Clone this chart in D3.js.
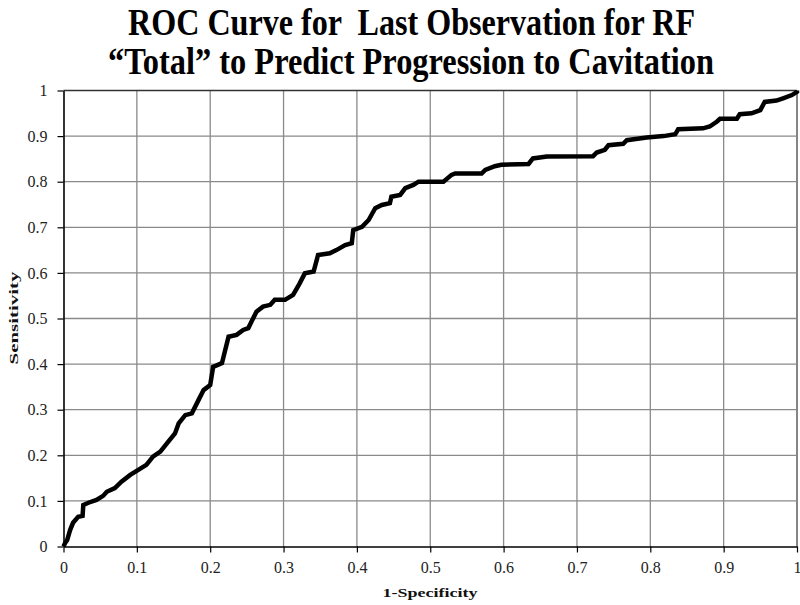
<!DOCTYPE html>
<html>
<head>
<meta charset="utf-8">
<script src="https://cdn.jsdelivr.net/npm/d3@7"></script>
<style>
  body { margin: 0; background: #fff; }
  svg { display: block; font-family: "Liberation Serif", "Times New Roman", serif; }
  .title { font-weight: bold; white-space: pre; fill: #000; }
  .axis-title { font-size: 13px; font-weight: bold; fill: #111; }
</style>
</head>
<body>
<svg class="chart" width="800" height="605"></svg>
<script>
const TITLE_LINES = ["ROC Curve for  Last Observation for RF", "\u201cTotal\u201d to Predict Progression to Cavitation"];
const X_TITLE = "1-Specificity";
const Y_TITLE = "Sensitivity";
const X_TICKS = [0, 0.1, 0.2, 0.3, 0.4, 0.5, 0.6, 0.7, 0.8, 0.9, 1];
const Y_TICKS = [0, 0.1, 0.2, 0.3, 0.4, 0.5, 0.6, 0.7, 0.8, 0.9, 1];

// 1-specificity (false positive rate)
const FPR = [0, 0.002, 0.005, 0.009, 0.013, 0.020, 0.026, 0.027, 0.034, 0.045, 0.054, 0.059, 0.070, 0.079, 0.091,
  0.102, 0.113, 0.122, 0.132, 0.141, 0.152, 0.157, 0.166, 0.175, 0.184, 0.191, 0.200, 0.204, 0.216, 0.225,
  0.236, 0.245, 0.252, 0.263, 0.272, 0.282, 0.288, 0.302, 0.313, 0.322, 0.329, 0.341, 0.347, 0.363, 0.372,
  0.384, 0.393, 0.395, 0.407, 0.416, 0.425, 0.434, 0.445, 0.447, 0.459, 0.466, 0.477, 0.484, 0.518, 0.529,
  0.534, 0.570, 0.575, 0.588, 0.597, 0.634, 0.640, 0.659, 0.722, 0.727, 0.738, 0.743, 0.763, 0.768, 0.795,
  0.818, 0.834, 0.838, 0.872, 0.881, 0.891, 0.895, 0.918, 0.922, 0.938, 0.950, 0.956, 0.972, 0.981, 0.993, 1, 1];
// sensitivity (true positive rate)
const TPR = [0, 0.007, 0.014, 0.036, 0.052, 0.065, 0.067, 0.091, 0.096, 0.102, 0.111, 0.120, 0.128, 0.142, 0.157,
  0.168, 0.179, 0.197, 0.208, 0.226, 0.248, 0.270, 0.288, 0.292, 0.321, 0.343, 0.354, 0.394, 0.402, 0.460,
  0.464, 0.475, 0.479, 0.515, 0.526, 0.530, 0.541, 0.541, 0.552, 0.577, 0.599, 0.603, 0.639, 0.643, 0.650,
  0.661, 0.665, 0.694, 0.701, 0.716, 0.742, 0.749, 0.753, 0.767, 0.771, 0.786, 0.793, 0.800, 0.800, 0.815,
  0.818, 0.818, 0.826, 0.834, 0.837, 0.839, 0.851, 0.855, 0.856, 0.864, 0.870, 0.880, 0.883, 0.891, 0.897,
  0.900, 0.904, 0.915, 0.917, 0.921, 0.932, 0.938, 0.938, 0.948, 0.950, 0.957, 0.975, 0.978, 0.983, 0.990, 0.997, 1];

const PLOT_LEFT = 63.5;
const PLOT_RIGHT = 797;
const PLOT_TOP = 90.5;
const PLOT_BOTTOM = 546.5;
const SERIF = "'Liberation Serif', 'Times New Roman', serif";

const svg = d3.select("svg.chart");

const x = d3.scaleLinear().domain([0, 1]).range([PLOT_LEFT, PLOT_RIGHT]);
const y = d3.scaleLinear().domain([0, 1]).range([PLOT_BOTTOM, PLOT_TOP]);

// title, squeezed like the condensed original
const titleSpecs = [
  {text: TITLE_LINES[0], baseline: 35, center: 411.5, width: 567},
  {text: TITLE_LINES[1], baseline: 74, center: 411, width: 606}
];
svg.selectAll("text.title").data(titleSpecs)
  .enter().append("text")
  .attr("class", "title")
  .attr("x", d => d.center)
  .attr("y", d => d.baseline)
  .attr("text-anchor", "middle")
  .attr("font-size", 37)
  .attr("textLength", d => d.width)
  .attr("lengthAdjust", "spacingAndGlyphs")
  .text(d => d.text);

// gridlines
svg.append("g")
  .selectAll("line").data(X_TICKS.filter(v => v > 0))
  .enter().append("line")
  .attr("x1", d => x(d)).attr("x2", d => x(d))
  .attr("y1", PLOT_TOP).attr("y2", PLOT_BOTTOM)
  .attr("stroke", d => d === 1 ? "#444" : "#8a8a8a")
  .attr("stroke-width", 1.3);

svg.append("g")
  .selectAll("line").data(Y_TICKS.filter(v => v > 0))
  .enter().append("line")
  .attr("x1", PLOT_LEFT).attr("x2", PLOT_RIGHT)
  .attr("y1", d => y(d)).attr("y2", d => y(d))
  .attr("stroke", d => d === 1 ? "#333" : "#8a8a8a")
  .attr("stroke-width", d => d === 1 ? 1.5 : 1.3);

// axes
const xAxis = d3.axisBottom(x).tickValues(X_TICKS).tickSize(6).tickSizeOuter(0).tickFormat(d3.format("~g"));
const yAxis = d3.axisLeft(y).tickValues(Y_TICKS).tickSize(6).tickSizeOuter(0).tickFormat(d3.format("~g"));

const gx = svg.append("g").attr("transform", `translate(0,${PLOT_BOTTOM})`).call(xAxis);
const gy = svg.append("g").attr("transform", `translate(${PLOT_LEFT},0)`).call(yAxis);

[gx, gy].forEach(g => {
  g.attr("font-family", SERIF).attr("font-size", 16);
  g.select(".domain").attr("stroke", "#000").attr("stroke-width", 1.6);
  g.selectAll(".tick line").attr("stroke", "#000").attr("stroke-width", 1.2);
  g.selectAll(".tick text").attr("fill", "#222");
});
gx.selectAll(".tick text").attr("dy", null).attr("y", 26);
gy.selectAll(".tick text").attr("x", -16).attr("dy", "0.32em");

// ROC curve
const line = d3.line()
  .x(i => x(FPR[i]))
  .y(i => y(TPR[i]))
  .curve(d3.curveLinear);

svg.append("path")
  .attr("d", line(d3.range(FPR.length)))
  .attr("fill", "none")
  .attr("stroke", "#000")
  .attr("stroke-width", 4.5)
  .attr("stroke-linejoin", "miter")
  .attr("stroke-linecap", "butt");

// axis titles
svg.append("text")
  .attr("class", "axis-title")
  .attr("x", 430)
  .attr("y", 597)
  .attr("text-anchor", "middle")
  .attr("textLength", 95)
  .attr("lengthAdjust", "spacingAndGlyphs")
  .text(X_TITLE);

svg.append("text")
  .attr("class", "axis-title")
  .attr("transform", "translate(18,318) rotate(-90)")
  .attr("text-anchor", "middle")
  .attr("textLength", 93)
  .attr("lengthAdjust", "spacingAndGlyphs")
  .text(Y_TITLE);
</script>
</body>
</html>
